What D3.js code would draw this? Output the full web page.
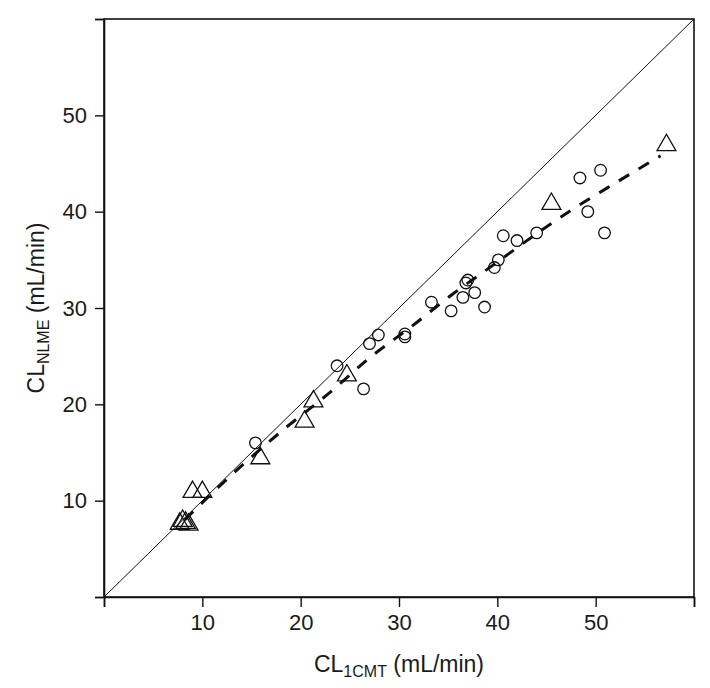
<!DOCTYPE html>
<html>
<head>
<meta charset="utf-8">
<script src="https://cdn.jsdelivr.net/npm/d3@7"></script>
<style>
  body { margin: 0; background: #fff; }
  text { font-family: "Liberation Sans", Arial, sans-serif; fill: #1a1a1a; }
</style>
</head>
<body>
<div id="chart"></div>
<script>
var circleX = [15.4, 23.7, 26.4, 27.0, 27.9, 30.6, 30.6, 33.3, 35.3, 36.5, 36.8, 37.0, 37.7, 38.7, 39.7, 40.1, 40.6, 42.0, 44.0, 48.4, 49.2, 50.5, 50.9];
var circleY = [16.0, 24.0, 21.6, 26.3, 27.2, 27.0, 27.3, 30.6, 29.7, 31.1, 32.6, 32.9, 31.6, 30.1, 34.2, 35.0, 37.5, 37.0, 37.8, 43.5, 40.0, 44.3, 37.8];
var triX = [7.7, 8.0, 8.3, 8.6, 9.0, 10.0, 15.9, 20.4, 21.3, 24.7, 45.5, 57.2];
var triY = [7.6, 7.9, 7.7, 7.5, 10.9, 10.9, 14.4, 18.2, 20.3, 23.0, 40.8, 46.9];
// smoother (dashed) read at a few points
var smoothX = [8.2, 10.1, 14.3, 18.4, 22.7, 27.1, 31.3, 35.4, 39.5, 43.7, 47.9, 52.2, 56.6];
var smoothY = [8.0, 9.9, 13.9, 17.5, 21.0, 24.9, 28.1, 31.4, 34.4, 37.5, 40.4, 43.1, 45.8];
var tickVals = [0, 10, 20, 30, 40, 50, 60];
var tickLabels = ["", "10", "20", "30", "40", "50", ""];

var W = 710, H = 688;
var mLeft = 104, mRight = 694, mTop = 19, mBottom = 597;

var svg = d3.select("#chart").append("svg")
    .attr("width", W).attr("height", H);

var x = d3.scaleLinear().domain([0, 60]).range([mLeft, mRight]);
var y = d3.scaleLinear().domain([0, 60]).range([mBottom, mTop]);

// box
svg.append("rect")
    .attr("x", mLeft).attr("y", mTop)
    .attr("width", mRight - mLeft).attr("height", mBottom - mTop)
    .attr("fill", "none").attr("stroke", "#111").attr("stroke-width", 1.6);

var xAxis = svg.append("g")
    .attr("transform", "translate(0," + mBottom + ")")
    .call(d3.axisBottom(x).tickValues(tickVals).tickSize(10).tickPadding(7)
        .tickFormat(function(d, i) { return tickLabels[i]; }));
var yAxis = svg.append("g")
    .attr("transform", "translate(" + mLeft + ",0)")
    .call(d3.axisLeft(y).tickValues(tickVals).tickSize(9).tickPadding(8)
        .tickFormat(function(d, i) { return tickLabels[i]; }));

[xAxis, yAxis].forEach(function(a) {
    a.select(".domain").attr("stroke", "#111").attr("stroke-width", 1.6);
    a.selectAll(".tick line").attr("stroke", "#111").attr("stroke-width", 1.4);
    a.selectAll(".tick text")
        .style("font-family", "'Liberation Sans', Arial, sans-serif")
        .style("font-size", "22px").attr("fill", "#1a1a1a");
});

// identity line
svg.append("line")
    .attr("x1", x(0)).attr("y1", y(0))
    .attr("x2", x(60)).attr("y2", y(60))
    .attr("stroke", "#111").attr("stroke-width", 1);

// dashed smoother
var line = d3.line()
    .x(function(d) { return x(d[0]); })
    .y(function(d) { return y(d[1]); })
    .curve(d3.curveMonotoneX);
svg.append("path")
    .datum(d3.zip(smoothX, smoothY))
    .attr("d", line)
    .attr("fill", "none").attr("stroke", "#111")
    .attr("stroke-width", 3).attr("stroke-dasharray", "12,11");

// circles
svg.selectAll(".pt")
    .data(d3.zip(circleX, circleY))
    .enter().append("circle")
    .attr("class", "pt")
    .attr("cx", function(d) { return x(d[0]); })
    .attr("cy", function(d) { return y(d[1]); })
    .attr("r", 5.8)
    .attr("fill", "none").attr("stroke", "#111").attr("stroke-width", 1.3);

// triangles
var tri = d3.symbol().type(d3.symbolTriangle).size(155);
svg.selectAll(".tri")
    .data(d3.zip(triX, triY))
    .enter().append("path")
    .attr("class", "tri")
    .attr("d", tri)
    .attr("transform", function(d) { return "translate(" + x(d[0]) + "," + y(d[1]) + ")"; })
    .attr("fill", "none").attr("stroke", "#111").attr("stroke-width", 1.3);

// axis titles
var xt = svg.append("text")
    .attr("x", (mLeft + mRight) / 2).attr("y", 672)
    .attr("text-anchor", "middle").style("font-size", "23px");
xt.append("tspan").text("CL");
xt.append("tspan").attr("dy", 5).style("font-size", "16px").text("1CMT");
xt.append("tspan").attr("dy", -5).text(" (mL/min)");

var yt = svg.append("text")
    .attr("transform", "translate(44," + ((mTop + mBottom) / 2) + ") rotate(-90)")
    .attr("text-anchor", "middle").style("font-size", "23px");
yt.append("tspan").text("CL");
yt.append("tspan").attr("dy", 5).style("font-size", "16px").text("NLME");
yt.append("tspan").attr("dy", -5).text(" (mL/min)");
</script>
</body>
</html>
